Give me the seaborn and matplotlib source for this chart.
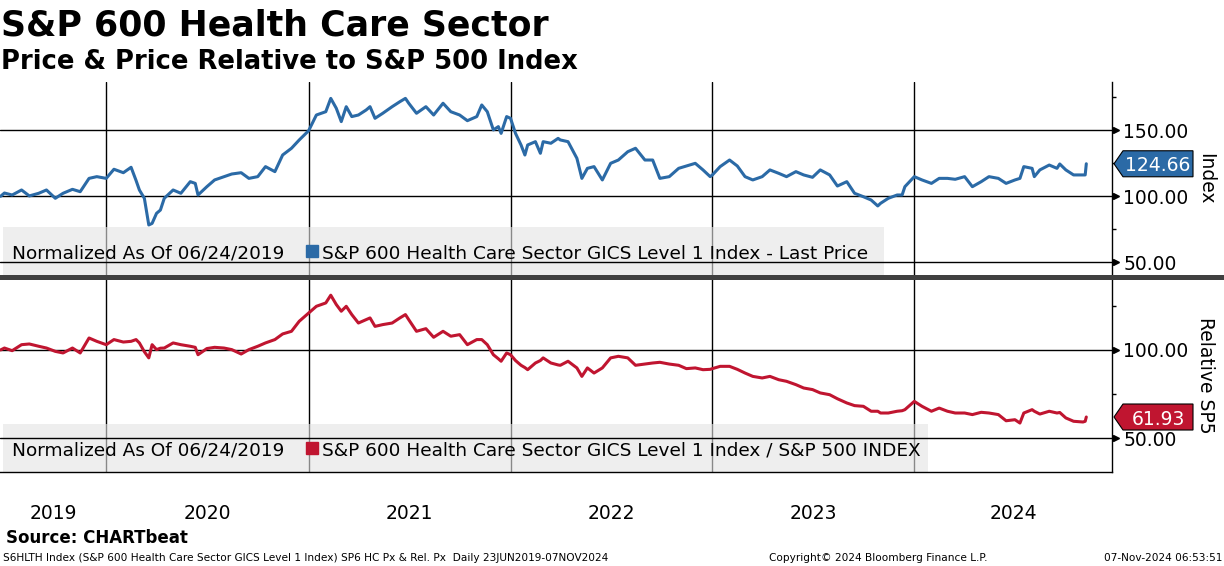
import pandas as pd
import numpy as np
import matplotlib
matplotlib.use('Agg')
import matplotlib.pyplot as plt
import matplotlib.dates as mdates
from matplotlib.patches import Rectangle, Polygon
from matplotlib.ticker import FormatStrFormatter
import seaborn as sns

# values (normalized to 100 on 06/24/2019)
dates = [
    '2019-06-24', '2019-07-01', '2019-07-15', '2019-08-01', '2019-08-15', '2019-09-01', '2019-09-15',
    '2019-10-01', '2019-10-15', '2019-11-01', '2019-11-15', '2019-12-01', '2019-12-15',
    '2020-01-01', '2020-01-15', '2020-02-01', '2020-02-15', '2020-02-24', '2020-03-01', '2020-03-10',
    '2020-03-18', '2020-03-24', '2020-04-01', '2020-04-08', '2020-04-15', '2020-05-01', '2020-05-15',
    '2020-06-01', '2020-06-10', '2020-06-15', '2020-07-01', '2020-07-15', '2020-08-01', '2020-08-15',
    '2020-09-01', '2020-09-15', '2020-10-01', '2020-10-15', '2020-11-01', '2020-11-15', '2020-12-01',
    '2020-12-15',
    '2021-01-01', '2021-01-15', '2021-02-01', '2021-02-10', '2021-02-20', '2021-03-01', '2021-03-10',
    '2021-03-20', '2021-04-01', '2021-04-15', '2021-04-22', '2021-05-01', '2021-05-15', '2021-06-01',
    '2021-06-15', '2021-06-25', '2021-07-01', '2021-07-15', '2021-08-01', '2021-08-15', '2021-09-01',
    '2021-09-15', '2021-10-01', '2021-10-15', '2021-11-01', '2021-11-10', '2021-11-20', '2021-12-01',
    '2021-12-10', '2021-12-15', '2021-12-25',
    '2022-01-01', '2022-01-10', '2022-01-20', '2022-01-27', '2022-02-01', '2022-02-15', '2022-02-24',
    '2022-03-01', '2022-03-15', '2022-03-28', '2022-04-01', '2022-04-15', '2022-05-01', '2022-05-10',
    '2022-05-20', '2022-06-01', '2022-06-16', '2022-07-01', '2022-07-15', '2022-08-01', '2022-08-15',
    '2022-09-01', '2022-09-15', '2022-09-28', '2022-10-15', '2022-11-01', '2022-11-15', '2022-12-01',
    '2022-12-15', '2022-12-28',
    '2023-01-01', '2023-01-15', '2023-02-01', '2023-02-15', '2023-03-01', '2023-03-15', '2023-04-01',
    '2023-04-15', '2023-05-01', '2023-05-15', '2023-06-01', '2023-06-15', '2023-07-01', '2023-07-15',
    '2023-08-01', '2023-08-15', '2023-09-01', '2023-09-15', '2023-10-01', '2023-10-15', '2023-10-27',
    '2023-11-01', '2023-11-15', '2023-12-01', '2023-12-10', '2023-12-15',
    '2024-01-01', '2024-01-15', '2024-02-01', '2024-02-15', '2024-03-01', '2024-03-15', '2024-04-01',
    '2024-04-15', '2024-05-01', '2024-05-15', '2024-06-01', '2024-06-15', '2024-07-01', '2024-07-10',
    '2024-07-17', '2024-08-01', '2024-08-05', '2024-08-15', '2024-09-01', '2024-09-15', '2024-09-20',
    '2024-10-01', '2024-10-15', '2024-11-01', '2024-11-05', '2024-11-07',
]

price = [
    100.0, 102.5, 101.0, 104.8, 100.3, 102.3, 104.8,
    98.5, 102.3, 105.3, 103.5, 113.6, 114.9,
    113.6, 120.5, 117.9, 122.0, 112.0, 104.8, 98.5,
    78.3, 79.5, 87.1, 89.6, 98.5, 104.8, 102.3,
    111.1, 109.8, 101.0, 107.3, 112.4, 114.9, 116.9,
    117.9, 113.6, 114.9, 122.5, 118.7, 131.3, 136.4,
    142.7,
    149.7, 161.6, 164.1, 174.2, 166.7, 156.6, 167.9,
    160.4, 161.6, 165.4, 167.9, 159.1, 162.9, 167.9,
    171.7, 174.2, 170.5, 162.9, 167.9, 161.6, 170.5,
    164.1, 161.6, 157.3, 160.4, 169.2, 164.1, 150.3,
    152.8, 147.7, 160.4,
    159.1, 147.7, 138.9, 131.3, 138.9, 141.4, 132.6,
    141.4, 140.2, 143.9, 142.7, 141.4, 128.8, 113.6,
    121.2, 122.5, 112.4, 125.0, 127.5, 133.8, 136.4,
    127.5, 127.5, 113.6, 114.9, 121.2, 123.0, 125.0,
    120.0, 114.9,
    116.2, 122.5, 127.5, 123.0, 114.9, 112.4, 114.9,
    120.0, 117.4, 114.9, 118.7, 116.2, 114.4, 120.0,
    116.2, 107.8, 111.1, 102.3, 99.7, 97.2, 92.7,
    94.7, 98.5, 101.0, 101.0, 107.3,
    114.9, 112.4, 109.8, 113.6, 113.6, 112.9, 114.9,
    107.3, 111.1, 114.9, 113.6, 109.8, 112.4, 113.6,
    122.5, 121.2, 114.9, 120.0, 123.7, 121.2, 124.5,
    120.0, 116.2, 116.2, 116.2, 124.66,
]

relative = [
    100.0, 101.1, 99.6, 103.0, 103.4, 102.1, 101.1,
    99.2, 98.3, 101.1, 98.3, 106.8, 104.9,
    103.0, 105.9, 104.5, 104.9, 105.9, 104.0, 99.0,
    95.5, 103.0, 100.2, 101.0, 101.1, 104.0, 103.0,
    102.1, 101.5, 97.3, 100.8, 101.5, 101.1, 100.2,
    97.7, 100.2, 102.1, 104.0, 105.9, 109.1, 110.6,
    116.3,
    121.0, 124.8, 126.7, 131.1, 125.8, 122.0, 124.8,
    120.1, 115.3, 117.2, 118.2, 113.4, 114.4, 115.3,
    118.2, 120.1, 117.2, 110.6, 112.1, 107.2, 110.6,
    107.8, 108.7, 103.0, 105.9, 105.9, 103.0, 97.3,
    95.0, 93.6, 98.3,
    97.3, 94.0, 91.3, 90.0, 88.8, 92.6, 94.0,
    95.5, 92.6, 91.5, 91.3, 93.6, 89.8, 85.0,
    89.8, 86.9, 89.8, 95.5, 96.4, 95.5, 91.3,
    92.0, 92.6, 93.0, 92.0, 91.3, 89.4, 89.8,
    88.8, 89.0,
    89.4, 90.7, 90.7, 89.0, 86.9, 85.0, 84.1,
    85.0, 83.1, 82.2, 80.3, 78.4, 77.5, 75.6,
    74.6, 72.3, 69.9, 68.4, 68.0, 65.2, 65.2,
    64.2, 64.2, 65.2, 65.5, 66.1,
    70.8, 68.0, 65.2, 67.0, 65.2, 64.2, 64.2,
    63.3, 64.6, 64.2, 63.3, 59.8, 60.4, 58.5,
    64.2, 66.1, 65.2, 63.6, 65.2, 64.2, 64.5,
    61.4, 59.5, 59.1, 59.5, 61.93,
]

year_labels = ['2019', '2020', '2021', '2022', '2023', '2024']

price_label = 'S&P 600 Health Care Sector GICS Level 1 Index - Last Price'
relative_label = 'S&P 600 Health Care Sector GICS Level 1 Index / S&P 500 INDEX'

BLUE = '#2b6aa6'
RED = '#c01530'

sns.set_style('white')
plt.rcParams['font.family'] = ['DejaVu Sans']
plt.rcParams.update({'text.color': 'black', 'axes.labelcolor': 'black',
                     'xtick.color': 'black', 'ytick.color': 'black'})

df = pd.DataFrame({'date': pd.to_datetime(dates), 'price': price, 'relative': relative})

W, H = 1224, 566
fig = plt.figure(figsize=(W / 100, H / 100), dpi=100)


def fx(px):
    return px / W


def fy(py):
    return 1 - py / H


AXW = 1112.3
ax1 = fig.add_axes([0, fy(275), fx(AXW), (275 - 82) / H])
ax2 = fig.add_axes([0, fy(472), fx(AXW), (472 - 279) / H])

sns.lineplot(data=df, x='date', y='price', ax=ax1, color=BLUE, linewidth=2.2, zorder=3)
sns.lineplot(data=df, x='date', y='relative', ax=ax2, color=RED, linewidth=2.2, zorder=3)

x0 = pd.Timestamp('2019-06-23')
x1 = pd.Timestamp('2024-12-24')

panels = [
    (ax1, (40.4, 186.6), [50, 100, 150], [75, 125, 175]),
    (ax2, (30.7, 140.3), [50, 100], [75, 125]),
]
for ax, ylim, major, minor in panels:
    ax.set_xlim(x0, x1)
    ax.set_ylim(*ylim)
    ax.set_xlabel('')
    ax.set_ylabel('')
    ax.yaxis.tick_right()
    ax.set_yticks(major)
    ax.set_yticks(minor, minor=True)
    ax.yaxis.set_major_formatter(FormatStrFormatter('%.2f'))
    ax.tick_params(axis='y', which='major', length=0, pad=8, labelsize=13.5, labelcolor='black')
    ax.tick_params(axis='y', which='minor', length=3, width=1, direction='out', color='black')
    ax.xaxis.set_major_locator(mdates.YearLocator())
    ax.set_axisbelow(True)
    ax.grid(axis='x', which='major', color='black', lw=1)
    ax.grid(axis='y', visible=False)
    for v in major:
        ax.axhline(v, color='black', lw=1, zorder=1.5)
    # little arrow heads at the major ticks
    ax.plot([1.0035] * len(major), major, marker='>', ms=5, color='black', ls='none',
            transform=ax.get_yaxis_transform(), clip_on=False)
    for s in ['top', 'left']:
        ax.spines[s].set_visible(False)
    ax.spines['right'].set_color('black')
    ax.spines['right'].set_linewidth(1)

ax1.spines['bottom'].set_visible(False)
ax1.tick_params(axis='x', which='both', length=0, labelbottom=False)

ax2.spines['bottom'].set_color('black')
ax2.spines['bottom'].set_linewidth(1)
ax2.xaxis.set_minor_locator(mdates.MonthLocator(bymonth=[4, 7, 10]))
ax2.tick_params(axis='x', which='major', length=36.7, width=1, color='#a8a8a8', direction='out',
                labelbottom=False)
ax2.tick_params(axis='x', which='minor', length=3.6, width=1, color='black', direction='out')

for yr in year_labels:
    start = max(pd.Timestamp(f'{yr}-01-01'), x0)
    end = min(pd.Timestamp(f'{int(yr) + 1}-01-01'), x1)
    mid = mdates.date2num(start + (end - start) / 2)
    ax2.text(mid, -0.241, yr, transform=ax2.get_xaxis_transform(), ha='center', va='baseline',
             fontsize=13.5)


def legend_box(ax, right_px, label, color):
    ax.add_patch(Rectangle((3 / AXW, 0), (right_px - 3) / AXW, 0.2487, transform=ax.transAxes,
                           fc='#e4e4e4', ec='none', alpha=0.6, zorder=1))
    ax.text(12 / AXW, 0.085, 'Normalized As Of 06/24/2019', transform=ax.transAxes,
            fontsize=13.3, va='baseline', zorder=4)
    ax.plot([312 / AXW], [0.125], marker='s', ms=8.5, color=color, transform=ax.transAxes,
            zorder=4, clip_on=False)
    ax.text(322 / AXW, 0.085, label, transform=ax.transAxes, fontsize=13.3, va='baseline', zorder=4)


legend_box(ax1, 884, price_label, BLUE)
legend_box(ax2, 928, relative_label, RED)


def value_tag(ax, value, color):
    _, ydisp = ax.transData.transform((mdates.date2num(x0), value))
    yc = H - ydisp
    pts = [(1114, yc), (1123, yc - 13), (1193, yc - 13), (1193, yc + 13), (1123, yc + 13)]
    fig.add_artist(Polygon([(fx(a), fy(b)) for a, b in pts], closed=True, transform=fig.transFigure,
                           fc=color, ec='black', lw=0.8))
    fig.text(fx(1158), fy(yc), f'{value:.2f}', color='white', ha='center', va='center_baseline',
             fontsize=13.5)


value_tag(ax1, price[-1], BLUE)
value_tag(ax2, relative[-1], RED)

fig.text(fx(1206), fy(178.5), 'Index', rotation=270, ha='center', va='center', fontsize=13.5)
fig.text(fx(1206), fy(375.5), 'Relative SP5', rotation=270, ha='center', va='center', fontsize=13.5)

# dark bar between the two panels
fig.add_artist(Rectangle((0, fy(280)), 1, 5 / H, transform=fig.transFigure, fc='#404040', ec='none'))

fig.text(fx(1), fy(36), 'S&P 600 Health Care Sector', fontsize=25, fontweight='bold', va='baseline')
fig.text(fx(1), fy(69), 'Price & Price Relative to S&P 500 Index', fontsize=18.6, fontweight='bold',
         va='baseline')
fig.text(fx(6), fy(543), 'Source: CHARTbeat', fontsize=12, fontweight='bold', va='baseline')
fig.text(fx(3), fy(561), 'S6HLTH Index (S&P 600 Health Care Sector GICS Level 1 Index) SP6 HC Px & Rel. Px  '
         'Daily 23JUN2019-07NOV2024', fontsize=7.6, va='baseline')
fig.text(fx(769), fy(561), 'Copyright\u00a9 2024 Bloomberg Finance L.P.', fontsize=7.6, va='baseline')
fig.text(fx(1222), fy(561), '07-Nov-2024 06:53:51', fontsize=7.6, va='baseline', ha='right')

fig.savefig('out.png', dpi=100)
